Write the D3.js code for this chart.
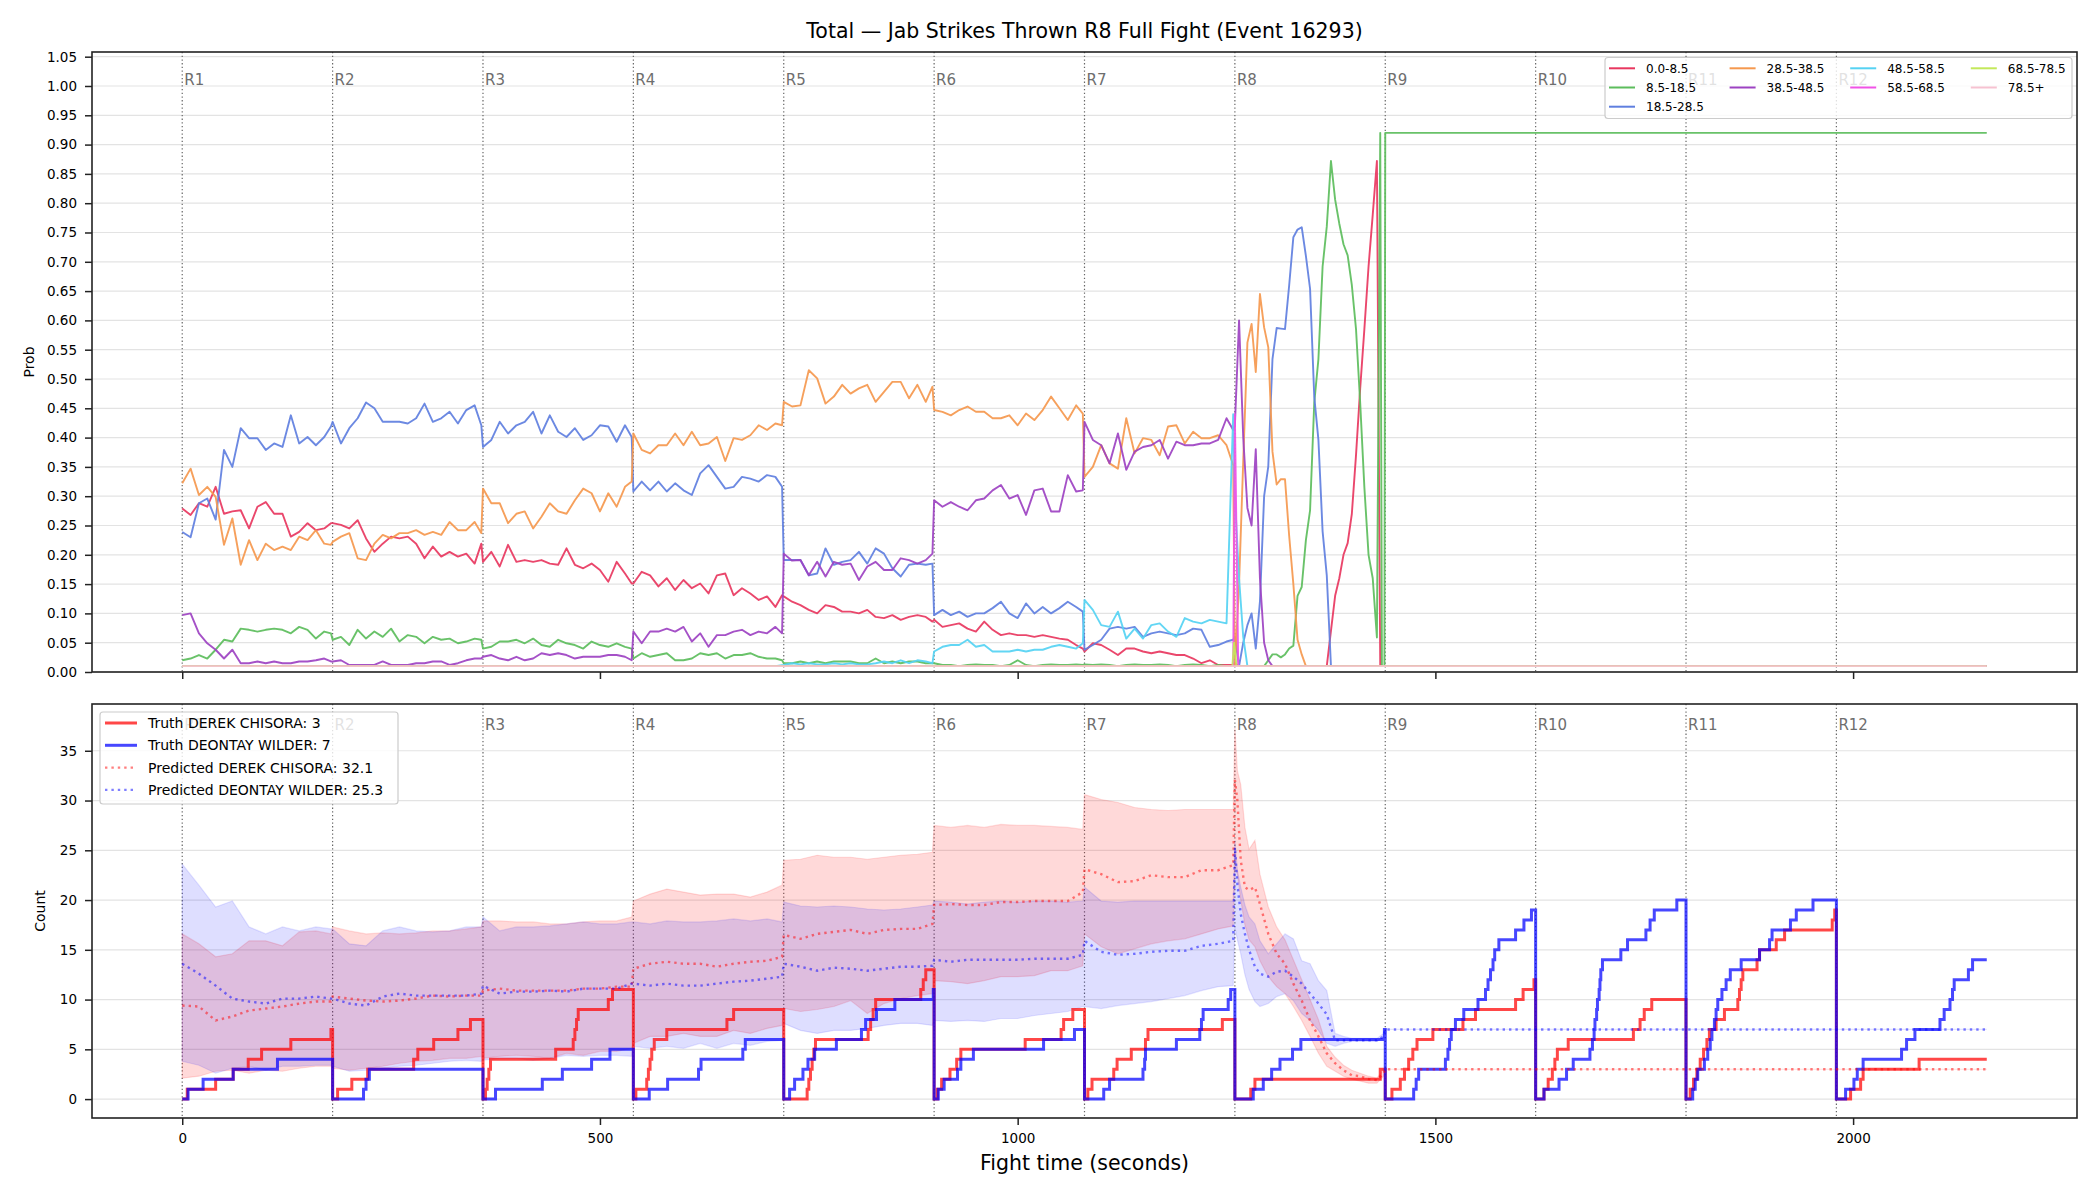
<!DOCTYPE html>
<html><head><meta charset="utf-8">
<script src="https://cdn.jsdelivr.net/npm/d3@7"></script>
<style>body{margin:0;background:#fff}svg{display:block}text{font-family:"DejaVu Sans",sans-serif}</style>
</head><body>
<svg id="chart" width="2100" height="1200"></svg>
<script>
// ---------------- DATA ----------------
const TITLE = "Total — Jab Strikes Thrown R8 Full Fight (Event 16293)";
const ROUND_LABELS = ["R1","R2","R3","R4","R5","R6","R7","R8","R9","R10","R11","R12"];
const ROUND_STARTS = [0,180,360,540,720,900,1080,1260,1440,1620,1800,1980];
const X_TICKS = [0,500,1000,1500,2000];
const PROB_TICKS = [0,0.05,0.10,0.15,0.20,0.25,0.30,0.35,0.40,0.45,0.50,0.55,0.60,0.65,0.70,0.75,0.80,0.85,0.90,0.95,1.00,1.05];
const COUNT_TICKS = [0,5,10,15,20,25,30,35];

// sampling grid of the probability panel (seconds within round for R1-R7, then R8, then tail)
const PROB_OFFSETS = [0,10,20,30,40,50,60,70,80,90,100,110,120,130,140,150,160,170,178];
const PROB_R8_TIMES = [1260,1265,1270,1275,1280,1285,1290,1295,1300,1305,1310,1315,1320,1325,1330,1335,1340,1345,1350,1355,1360,1365,1370,1375,1380,1385,1390,1395,1400,1405,1410,1415,1420,1425,1430];
const PROB_TAIL_TIMES = [1434,1436,1439,1440,2160];

const P_0_8 = [
 0.279,0.268,0.288,0.282,0.316,0.27,0.274,0.276,0.245,0.282,0.29,0.27,0.27,0.231,0.239,0.254,0.242,0.245,0.254,
 0.254,0.251,0.245,0.259,0.228,0.205,0.219,0.231,0.228,0.231,0.219,0.194,0.214,0.197,0.205,0.197,0.202,0.185,0.219,
 0.188,0.205,0.18,0.217,0.188,0.191,0.188,0.191,0.185,0.183,0.211,0.183,0.177,0.185,0.174,0.154,0.188,0.168,0.151,
 0.151,0.171,0.165,0.146,0.16,0.14,0.157,0.143,0.151,0.134,0.165,0.168,0.131,0.143,0.134,0.123,0.129,0.111,0.131,
 0.129,0.12,0.114,0.106,0.1,0.114,0.111,0.103,0.103,0.1,0.106,0.094,0.092,0.097,0.089,0.094,0.097,0.094,0.086,
 0.089,0.077,0.08,0.083,0.074,0.069,0.086,0.072,0.063,0.066,0.063,0.063,0.06,0.063,0.06,0.057,0.055,0.046,0.04,
 0.035,0.049,0.046,0.038,0.029,0.04,0.04,0.035,0.032,0.035,0.032,0.029,0.029,0.023,0.015,0.02,0.012,0.012,0.012,
 0.015,0.01,0.01,0.01,0.01,0.01,0.01,0.01,0.01,0.01,0.01,0.01,0.01,0.01,0.01,0.01,0.01,0.01,0.01,0.01,0.01,0.01,0.01,
 0.07,0.13,0.16,0.2,0.22,0.27,0.37,0.484,0.585,0.692,0.78,0.872,
 0.01,0.01,0.01,0.01,0.01];
const P_8_18 = [
 0.02,0.023,0.029,0.023,0.038,0.055,0.052,0.074,0.072,0.069,0.072,0.074,0.072,0.066,0.077,0.072,0.057,0.069,0.066,
 0.055,0.06,0.046,0.072,0.057,0.069,0.06,0.074,0.052,0.063,0.06,0.049,0.06,0.055,0.057,0.049,0.052,0.057,0.055,
 0.04,0.043,0.052,0.052,0.055,0.049,0.057,0.046,0.043,0.055,0.049,0.046,0.04,0.052,0.046,0.043,0.049,0.043,0.04,
 0.023,0.032,0.026,0.029,0.032,0.02,0.02,0.023,0.032,0.029,0.032,0.023,0.029,0.029,0.032,0.026,0.023,0.023,0.02,
 0.015,0.015,0.018,0.015,0.018,0.015,0.018,0.018,0.018,0.015,0.015,0.023,0.015,0.018,0.015,0.018,0.018,0.015,0.015,
 0.015,0.012,0.012,0.01,0.012,0.013,0.012,0.012,0.01,0.012,0.02,0.012,0.01,0.012,0.013,0.012,0.012,0.013,0.012,
 0.013,0.012,0.013,0.012,0.01,0.012,0.013,0.012,0.012,0.013,0.012,0.01,0.012,0.013,0.012,0.01,0.012,0.01,0.01,
 0.01,0.01,0.01,0.01,0.01,0.01,0.01,0.01,
 0.02,0.03,0.03,0.025,0.03,0.04,0.045,0.13,0.145,0.225,0.276,0.459,0.534,0.692,0.76,0.872,0.806,0.765,0.73,0.711,0.66,0.585,0.459,0.315,0.2,0.16,0.059,
 0.92,0.01,0.01,0.92,0.92];
const P_18_28 = [
 0.239,0.23,0.288,0.296,0.26,0.379,0.35,0.416,0.399,0.399,0.379,0.39,0.384,0.438,0.39,0.401,0.387,0.401,0.419,
 0.427,0.39,0.416,0.433,0.46,0.45,0.427,0.427,0.427,0.424,0.433,0.458,0.427,0.433,0.444,0.424,0.447,0.455,0.421,
 0.384,0.396,0.427,0.407,0.421,0.427,0.444,0.407,0.438,0.41,0.401,0.416,0.396,0.404,0.421,0.419,0.393,0.421,0.401,
 0.308,0.325,0.31,0.325,0.308,0.322,0.31,0.302,0.339,0.353,0.333,0.313,0.316,0.333,0.33,0.325,0.336,0.333,0.316,
 0.191,0.191,0.191,0.165,0.168,0.211,0.183,0.188,0.191,0.205,0.185,0.211,0.202,0.177,0.163,0.183,0.185,0.183,0.185,
 0.097,0.106,0.097,0.103,0.094,0.1,0.1,0.109,0.12,0.1,0.092,0.117,0.1,0.111,0.1,0.109,0.12,0.111,0.103,
 0.038,0.046,0.055,0.074,0.077,0.074,0.077,0.06,0.066,0.069,0.066,0.063,0.066,0.074,0.072,0.043,0.046,0.052,0.055,
 0.06,0.01,0.05,0.08,0.1,0.04,0.12,0.3,0.351,0.534,0.587,0.586,0.585,0.66,0.742,0.755,0.759,0.71,0.654,0.47,0.396,0.24,0.165,
 0.01,0.01,0.01,0.01,0.01,0.01,0.01,0.01,0.01,0.01,0.01,0.01,
 0.01,0.01,0.01,0.01,0.01];
const P_28_38 = [
 0.322,0.347,0.302,0.316,0.299,0.217,0.262,0.183,0.225,0.191,0.219,0.208,0.214,0.208,0.231,0.225,0.242,0.219,0.217,
 0.222,0.231,0.237,0.194,0.191,0.219,0.234,0.228,0.237,0.237,0.242,0.234,0.239,0.234,0.256,0.242,0.242,0.256,0.237,
 0.313,0.288,0.288,0.254,0.27,0.274,0.245,0.265,0.288,0.274,0.27,0.293,0.313,0.305,0.274,0.305,0.282,0.316,0.325,
 0.407,0.379,0.373,0.387,0.387,0.407,0.387,0.41,0.387,0.39,0.401,0.36,0.399,0.396,0.404,0.421,0.413,0.424,0.421,
 0.461,0.453,0.455,0.515,0.501,0.458,0.47,0.49,0.475,0.484,0.49,0.461,0.478,0.495,0.495,0.467,0.49,0.461,0.487,
 0.447,0.444,0.438,0.447,0.453,0.444,0.444,0.433,0.433,0.438,0.421,0.441,0.43,0.447,0.47,0.45,0.43,0.455,0.441,
 0.333,0.35,0.387,0.356,0.347,0.433,0.373,0.399,0.396,0.37,0.419,0.421,0.39,0.41,0.399,0.399,0.404,0.387,0.353,
 0.01,0.15,0.36,0.562,0.594,0.512,0.645,0.588,0.554,0.376,0.32,0.329,0.329,0.232,0.15,0.055,0.03,
 0.01,0.01,0.01,0.01,0.01,0.01,0.01,0.01,0.01,0.01,0.01,0.01,0.01,0.01,0.01,0.01,0.01,0.01,
 0.01,0.01,0.01,0.01,0.01];
const P_38_48 = [
 0.097,0.1,0.066,0.049,0.038,0.023,0.038,0.015,0.015,0.018,0.015,0.018,0.015,0.015,0.018,0.018,0.02,0.023,0.018,
 0.018,0.02,0.012,0.012,0.012,0.012,0.018,0.012,0.012,0.012,0.015,0.015,0.018,0.018,0.012,0.015,0.02,0.023,0.023,
 0.026,0.029,0.023,0.02,0.026,0.02,0.023,0.032,0.029,0.032,0.029,0.023,0.026,0.026,0.026,0.029,0.029,0.026,0.02,
 0.069,0.049,0.069,0.069,0.074,0.069,0.077,0.052,0.066,0.043,0.063,0.063,0.069,0.072,0.063,0.069,0.066,0.077,0.066,
 0.202,0.19,0.191,0.165,0.188,0.163,0.188,0.183,0.185,0.157,0.18,0.188,0.174,0.174,0.194,0.191,0.185,0.191,0.202,
 0.293,0.282,0.29,0.282,0.276,0.293,0.296,0.31,0.319,0.296,0.302,0.268,0.31,0.313,0.274,0.274,0.336,0.308,0.31,
 0.427,0.396,0.387,0.356,0.407,0.345,0.376,0.384,0.387,0.396,0.364,0.393,0.387,0.387,0.39,0.39,0.396,0.433,0.413,
 0.42,0.6,0.4,0.28,0.25,0.38,0.16,0.05,0.02,
 0.01,0.01,0.01,0.01,0.01,0.01,0.01,0.01,0.01,0.01,0.01,0.01,0.01,0.01,0.01,0.01,0.01,0.01,0.01,0.01,0.01,0.01,0.01,0.01,0.01,0.01,
 0.01,0.01,0.01,0.01,0.01];
// 48.5-58.5 starts at 0.01 then follows the grid from round 5
const P_48_58_LEAD_T = [0,710];
const P_48_58 = [
 0.01,0.01,
 0.012,0.015,0.013,0.015,0.013,0.013,0.015,0.013,0.015,0.013,0.013,0.015,0.018,0.015,0.02,0.015,0.02,0.018,0.015,
 0.035,0.043,0.046,0.046,0.055,0.043,0.046,0.035,0.035,0.035,0.038,0.035,0.038,0.038,0.043,0.046,0.043,0.04,0.049,
 0.123,0.106,0.08,0.077,0.103,0.057,0.074,0.057,0.08,0.083,0.069,0.06,0.092,0.086,0.083,0.089,0.086,0.083,0.44,
 0.3,0.16,0.06,
 0.01,0.01,0.01,0.01,0.01,0.01,0.01,0.01,0.01,0.01,0.01,0.01,0.01,0.01,0.01,0.01,0.01,0.01,0.01,0.01,0.01,0.01,0.01,0.01,0.01,0.01,0.01,0.01,0.01,0.01,0.01,0.01,
 0.01,0.01,0.01,0.01,0.01];
const P_58_68_T = [0,1258,1260,1264,2160];
const P_58_68 = [0.01,0.01,0.44,0.01,0.01];
const P_68_78_T = [0,1257,1259,1262,2160];
const P_68_78 = [0.01,0.01,0.05,0.01,0.01];
const P_78_T = [0,2160];
const P_78 = [0.01,0.01];

const BIN_LABELS = ["0.0-8.5","8.5-18.5","18.5-28.5","28.5-38.5","38.5-48.5","48.5-58.5","58.5-68.5","68.5-78.5","78.5+"];
const BIN_COLORS = ["#e8375f","#5cbd5c","#5f7fdf","#f5984e","#9d42c2","#55d2f3","#f052e6","#c3e85a","#f6c2d1"];

// count panel: predicted mean / band grid
const BAND_OFFSETS = [0,20,40,60,80,100,120,140,160,178];
const BAND_R8_TIMES = [1260,1263,1267,1272,1277,1284,1290,1300,1310,1320,1330,1340,1350,1360,1370,1380,1390,1400,1410,1420,1430,1438];
const BAND_TAIL_TIMES = [1440,2160];

const PRED_RED = [
 9.4,9.3,7.9,8.3,8.9,9.1,9.3,9.6,9.8,9.8,
 10.3,10.1,9.9,9.8,9.9,10.1,10.4,10.3,10.4,10.4,
 10.9,11.1,10.9,10.9,10.9,10.9,11.1,11.1,11.3,11.3,
 13.1,13.6,13.8,13.6,13.6,13.3,13.6,13.8,13.9,14.3,
 16.5,16.1,16.6,16.8,17.0,16.6,17.0,17.1,17.1,17.6,
 19.5,19.6,19.5,19.5,19.8,19.8,19.9,19.9,19.9,20.8,
 23.1,22.6,21.8,21.9,22.5,22.3,22.3,23.0,23.0,23.5,
 32.1,30.0,24.0,21.3,21.0,21.3,19.6,16.6,14.6,13.6,11.6,9.9,7.9,6.3,4.6,3.6,2.9,2.4,2.3,2.0,1.9,2.6,
 3,3];
const PRED_RED_LO = [
 2.1,2.3,2.8,2.9,2.6,2.9,2.8,3.1,3.3,3.3,
 3.1,2.9,3.1,3.3,3.6,3.8,3.9,4.1,4.1,4.3,
 4.1,4.3,4.4,4.3,4.1,4.6,4.4,4.8,4.8,5.1,
 5.6,6.3,6.3,6.6,6.3,6.3,6.9,6.6,7.1,7.4,
 9.1,8.8,9.0,9.3,9.9,8.6,9.6,10.1,10.4,10.6,
 11.9,11.8,11.6,11.9,12.3,12.3,12.4,12.9,12.9,13.4,
 16.6,15.3,14.6,15.1,15.6,15.9,16.1,16.6,17.1,17.4,
 23.3,22.6,20.0,17.5,16.0,15.3,13.9,12.3,11.3,10.6,9.3,7.9,6.3,4.6,3.3,2.8,2.3,2.0,1.8,1.6,1.6,2.3,
 3,3];
const PRED_RED_HI = [
 16.6,15.6,14.3,14.6,15.9,15.9,15.4,16.8,16.9,16.6,
 17.3,16.9,16.6,16.7,16.6,16.7,16.9,16.9,17.1,17.3,
 17.9,17.9,17.8,17.8,17.6,17.6,17.8,17.9,17.9,18.3,
 19.9,20.6,21.1,20.8,20.5,20.6,20.6,20.3,20.8,21.5,
 24.0,24.1,24.5,24.3,24.3,24.1,24.3,24.5,24.6,24.8,
 27.5,27.3,27.5,27.3,27.6,27.5,27.5,27.4,27.3,27.1,
 30.6,30.1,29.8,29.3,29.1,29.0,29.1,29.1,29.1,29.1,
 37.3,33.0,31.6,27.3,25.1,26.0,22.6,19.3,17.3,16.0,14.0,12.0,10.0,8.0,5.3,4.2,3.4,2.9,2.6,2.3,2.1,3.0,
 3,3];
const PRED_BLUE = [
 13.6,12.6,11.4,10.1,9.8,9.6,10.1,10.1,10.3,10.1,
 10.1,9.6,9.4,10.3,10.6,10.4,10.4,10.4,10.4,10.6,
 11.4,10.6,10.8,10.8,10.9,10.8,11.1,11.1,11.1,11.6,
 11.6,11.4,11.6,11.4,11.4,11.6,11.8,11.9,12.1,12.3,
 13.6,13.3,12.9,13.2,13.1,12.9,13.1,13.3,13.3,13.4,
 14.0,13.8,14.0,14.0,14.0,14.0,14.1,14.1,14.1,14.5,
 15.9,14.8,14.5,14.6,14.8,14.9,14.9,15.4,15.6,15.9,
 25.3,21.6,18.6,16.6,15.0,13.3,12.6,12.3,12.8,12.9,12.3,11.6,10.6,9.6,8.5,5.9,5.9,5.9,5.9,5.9,5.9,6.3,
 7,7];
const PRED_BLUE_LO = [
 3.8,3.4,2.6,3.1,3.3,2.9,3.3,3.3,3.4,3.4,
 3.3,2.8,2.9,3.1,3.3,3.4,3.6,3.8,3.9,3.8,
 3.9,4.1,4.1,3.9,4.1,4.4,4.3,4.4,4.4,4.3,
 5.3,5.1,5.3,5.1,5.6,5.1,5.6,5.4,5.8,5.9,
 7.6,6.9,6.6,6.9,6.9,7.1,7.4,7.6,7.6,7.4,
 7.9,7.8,7.9,7.8,8.1,8.1,8.4,8.6,8.8,9.3,
 9.3,9.1,9.4,9.6,9.8,10.1,10.4,10.9,11.3,11.4,
 17.3,16.0,14.6,12.5,11.0,9.8,9.3,9.6,10.3,10.6,9.9,8.6,7.9,6.9,5.6,5.3,5.6,5.8,5.8,5.8,5.8,6.2,
 7,7];
const PRED_BLUE_HI = [
 23.6,21.5,19.3,19.9,17.3,16.6,17.3,16.9,17.3,17.1,
 17.1,15.6,15.4,16.9,17.3,16.9,16.8,16.9,17.3,17.3,
 18.3,16.9,17.3,17.3,17.4,17.6,17.8,17.6,17.6,17.8,
 17.8,17.6,17.9,17.8,17.8,17.9,18.1,17.9,18.1,17.8,
 19.8,19.4,19.3,19.4,19.3,19.1,19.0,19.1,19.3,19.5,
 19.9,19.8,19.6,19.8,19.9,19.8,19.9,19.9,19.8,19.9,
 21.3,19.9,19.8,19.9,19.9,19.9,19.9,19.9,19.9,19.9,
 26.0,23.0,21.3,19.5,18.3,17.6,15.9,14.6,15.6,16.6,16.1,13.9,13.6,11.9,10.9,6.6,6.3,6.1,6.1,6.1,6.1,6.6,
 7,7];

// truth: cumulative count (resets each round) at change times
const TRUTH_RED_T = [0,6,40,61,79,95,130,178,
 180,186,203,222,277,282,301,330,345,
 360,363,365,367,369,447,468,470,472,474,510,515,
 540,543,556,558,560,562,565,580,652,660,
 720,748,750,752,754,756,758,821,824,827,830,884,887,890,
 900,904,909,919,927,932,1009,1052,1055,1066,
 1080,1084,1089,1115,1119,1136,1153,1156,1245,
 1260,1279,1284,1434,
 1440,1448,1458,1463,1468,1473,1478,1497,1533,1548,1596,1605,1618,
 1620,1630,1635,1640,1643,1646,1659,1737,1745,1750,1759,
 1800,1805,1809,1813,1817,1821,1825,1828,1836,1846,1862,1864,1866,1868,1885,1888,1908,1918,1975,1978,
 1980,1997,2009,2012,2079,2160];
const TRUTH_RED_C = [0,1,2,3,4,5,6,7,
 0,1,2,3,4,5,6,7,8,
 0,1,2,3,4,5,6,7,8,9,10,11,
 0,1,2,3,4,5,6,7,8,9,
 0,1,2,3,4,5,6,7,8,9,10,11,12,13,
 0,1,2,3,4,5,6,7,8,9,
 0,1,2,3,4,5,6,7,8,
 0,1,2,3,
 0,1,2,3,4,5,6,7,8,9,10,11,12,
 0,1,2,3,4,5,6,7,8,9,10,
 0,1,2,3,4,5,6,7,8,9,10,11,12,13,14,15,16,17,18,19,
 0,1,2,3,4,4];
const TRUTH_BLUE_T = [0,7,25,61,114,
 180,217,220,224,
 360,375,431,455,490,512,
 540,559,581,618,621,671,674,
 720,727,733,743,749,757,783,813,818,831,853,899,
 900,905,912,928,932,947,1031,1068,
 1080,1103,1110,1150,1152,1153,1190,1218,1220,1222,1252,1255,
 1260,1282,1294,1304,1314,1329,1339,1439,
 1440,1474,1477,1480,1512,1515,1517,1519,1524,1534,1551,1560,1563,1566,1569,1571,1576,1596,1606,1615,
 1620,1630,1648,1657,1665,1685,1688,1690,1691,1693,1694,1696,1697,1698,1700,1722,1730,1752,1757,1762,1789,
 1800,1808,1811,1814,1822,1826,1829,1831,1834,1836,1838,1843,1848,1853,1866,1888,1900,1903,1925,1932,1952,
 1980,1991,2001,2005,2012,2058,2064,2074,2104,2109,2116,2119,2121,2138,2143,2160];
const TRUTH_BLUE_C = [0,1,2,3,4,
 0,1,2,3,
 0,1,2,3,4,5,
 0,1,2,3,4,5,6,
 0,1,2,3,4,5,6,7,8,9,10,11,
 0,1,2,3,4,5,6,7,
 0,1,2,3,4,5,6,7,8,9,10,11,
 0,1,2,3,4,5,6,7,
 0,1,2,3,4,5,6,7,8,9,10,11,12,13,14,15,16,17,18,19,
 0,1,2,3,4,5,6,7,8,9,10,11,12,13,14,15,16,17,18,19,20,
 0,1,2,3,4,5,6,7,8,9,10,11,12,13,14,15,16,17,18,19,20,
 0,1,2,3,4,5,6,7,8,9,10,11,12,13,14,14];

const LEGEND2 = ["Truth DEREK CHISORA: 3","Truth DEONTAY WILDER: 7","Predicted DEREK CHISORA: 32.1","Predicted DEONTAY WILDER: 25.3"];

// ---------------- BUILD ----------------
const PROB_T = ROUND_STARTS.slice(0,7).flatMap(s => PROB_OFFSETS.map(o => s + o)).concat(PROB_R8_TIMES, PROB_TAIL_TIMES);
const CYAN_T = P_48_58_LEAD_T.concat(PROB_T.slice(4 * PROB_OFFSETS.length));
const BAND_T = ROUND_STARTS.slice(0,7).flatMap(s => BAND_OFFSETS.map(o => s + o)).concat(BAND_R8_TIMES, BAND_TAIL_TIMES);

const BINS = [
  {t: PROB_T, v: P_0_8}, {t: PROB_T, v: P_8_18}, {t: PROB_T, v: P_18_28}, {t: PROB_T, v: P_28_38},
  {t: PROB_T, v: P_38_48}, {t: CYAN_T, v: P_48_58}, {t: P_58_68_T, v: P_58_68}, {t: P_68_78_T, v: P_68_78},
  {t: P_78_T, v: P_78}
];
BINS.forEach((b,i) => { if (b.t.length !== b.v.length) throw new Error("len mismatch bin " + i + " " + b.t.length + " vs " + b.v.length); });
[PRED_RED,PRED_RED_LO,PRED_RED_HI,PRED_BLUE,PRED_BLUE_LO,PRED_BLUE_HI].forEach((a,i)=>{ if (a.length !== BAND_T.length) throw new Error("band len " + i + " " + a.length + " vs " + BAND_T.length); });
if (TRUTH_RED_T.length !== TRUTH_RED_C.length) throw new Error("truth red " + TRUTH_RED_T.length + " " + TRUTH_RED_C.length);
if (TRUTH_BLUE_T.length !== TRUTH_BLUE_C.length) throw new Error("truth blue " + TRUTH_BLUE_T.length + " " + TRUTH_BLUE_C.length);

const svg = d3.select("#chart");
const L = 92, R = 2077, T1 = 52, B1 = 672, T2 = 704, B2 = 1118;
const FONT = "DejaVu Sans";
const x = d3.scaleLinear().domain([-108, 2268]).range([L, R]);
const yP = d3.scaleLinear().domain([0, 1.058]).range([B1, T1]);
const yC = d3.scaleLinear().domain([-1.9, 39.7]).range([B2, T2]);

svg.append("rect").attr("width", 2100).attr("height", 1200).attr("fill", "#fff");
const defs = svg.append("defs");
defs.append("clipPath").attr("id", "clip1").append("rect").attr("x", L).attr("y", T1).attr("width", R - L).attr("height", B1 - T1);
defs.append("clipPath").attr("id", "clip2").append("rect").attr("x", L).attr("y", T2).attr("width", R - L).attr("height", B2 - T2);

// title
svg.append("text").attr("x", (L + R) / 2).attr("y", 37.5).attr("text-anchor", "middle")
  .attr("font-size", 20.5).attr("fill", "#000").text(TITLE);

function panel(yScale, ticks, top, bottom, clipId, fmt, showX) {
  const g = svg.append("g");
  // horizontal grid
  g.append("g").selectAll("line").data(ticks).join("line")
    .attr("x1", L).attr("x2", R).attr("y1", d => yScale(d)).attr("y2", d => yScale(d))
    .attr("stroke", "#e3e3e3").attr("stroke-width", 1.2);
  // round dividers
  const content = g.append("g").attr("clip-path", `url(#${clipId})`);
  content.append("g").selectAll("line").data(ROUND_STARTS).join("line")
    .attr("x1", d => x(d)).attr("x2", d => x(d)).attr("y1", top).attr("y2", bottom)
    .attr("stroke", "#666").attr("stroke-width", 1.2).attr("stroke-dasharray", "1.3,2.4");
  // y axis
  const ay = g.append("g").attr("transform", `translate(${L},0)`)
    .call(d3.axisLeft(yScale).tickValues(ticks).tickFormat(fmt).tickSize(7).tickPadding(8));
  ay.select(".domain").remove();
  ay.selectAll("line").attr("stroke", "#222").attr("stroke-width", 1.5);
  ay.selectAll("text").attr("font-family", FONT).attr("font-size", 13.5).attr("fill", "#000");
  // x axis
  const ax = g.append("g").attr("transform", `translate(0,${bottom})`)
    .call(d3.axisBottom(x).tickValues(X_TICKS).tickFormat(showX ? d3.format("d") : () => "").tickSize(7).tickPadding(8));
  ax.select(".domain").remove();
  ax.selectAll("line").attr("stroke", "#222").attr("stroke-width", 1.5);
  ax.selectAll("text").attr("font-family", FONT).attr("font-size", 13.5).attr("fill", "#000");
  return {g, content};
}

// ---------- top panel ----------
const p1 = panel(yP, PROB_TICKS, T1, B1, "clip1", d3.format(".2f"), false);
const lineP = d3.line().x(d => x(d[0])).y(d => yP(d[1]));
BINS.forEach((b, i) => {
  p1.content.append("path").datum(b.t.map((t, k) => [t, b.v[k]]))
    .attr("d", lineP).attr("fill", "none").attr("stroke", BIN_COLORS[i])
    .attr("stroke-width", 1.9).attr("stroke-linejoin", "round").attr("opacity", 0.92);
});
p1.g.append("g").selectAll("text").data(ROUND_STARTS).join("text")
  .attr("x", d => x(d) + 2).attr("y", 85).attr("font-size", 15).attr("fill", "#6e6e6e")
  .text((d, i) => ROUND_LABELS[i]);
svg.append("rect").attr("x", L).attr("y", T1).attr("width", R - L).attr("height", B1 - T1)
  .attr("fill", "none").attr("stroke", "#222").attr("stroke-width", 1.6);

// legend top
const LG1_COL = [0,0,0,1,1,2,2,3,3], LG1_ROW = [0,1,2,0,1,0,1,0,1];
const lg1 = svg.append("g");
lg1.append("rect").attr("x", 1605).attr("y", 57.5).attr("width", 467).attr("height", 61).attr("rx", 3)
  .attr("fill", "#fff").attr("fill-opacity", 0.8).attr("stroke", "#cccccc").attr("stroke-width", 1.2);
BIN_LABELS.forEach((lab, i) => {
  const cx = 1609 + LG1_COL[i] * 120.6, cy = 68.3 + LG1_ROW[i] * 19.2;
  lg1.append("line").attr("x1", cx).attr("x2", cx + 26).attr("y1", cy).attr("y2", cy)
    .attr("stroke", BIN_COLORS[i]).attr("stroke-width", 2);
  lg1.append("text").attr("x", cx + 37).attr("y", cy + 4.3).attr("font-size", 12).attr("fill", "#000").text(lab);
});

// ---------- bottom panel ----------
const p2 = panel(yC, COUNT_TICKS, T2, B2, "clip2", d3.format("d"), true);
const bandPts = (lo, hi) => BAND_T.map((t, k) => [t, lo[k], hi[k]]);
const area = d3.area().x(d => x(d[0])).y0(d => yC(d[1])).y1(d => yC(d[2]));
p2.content.append("path").datum(bandPts(PRED_RED_LO, PRED_RED_HI)).attr("d", area)
  .attr("fill", "red").attr("fill-opacity", 0.15).attr("stroke", "red").attr("stroke-opacity", 0.13).attr("stroke-width", 1.2);
p2.content.append("path").datum(bandPts(PRED_BLUE_LO, PRED_BLUE_HI)).attr("d", area)
  .attr("fill", "blue").attr("fill-opacity", 0.13).attr("stroke", "blue").attr("stroke-opacity", 0.11).attr("stroke-width", 1.2);

const stepLine = d3.line().x(d => x(d[0])).y(d => yC(d[1])).curve(d3.curveStepAfter);
p2.content.append("path").datum(TRUTH_RED_T.map((t, k) => [t, TRUTH_RED_C[k]])).attr("d", stepLine)
  .attr("fill", "none").attr("stroke", "red").attr("stroke-opacity", 0.72).attr("stroke-width", 3);
p2.content.append("path").datum(TRUTH_BLUE_T.map((t, k) => [t, TRUTH_BLUE_C[k]])).attr("d", stepLine)
  .attr("fill", "none").attr("stroke", "blue").attr("stroke-opacity", 0.72).attr("stroke-width", 3);

const lineC = d3.line().x(d => x(d[0])).y(d => yC(d[1]));
p2.content.append("path").datum(BAND_T.map((t, k) => [t, PRED_RED[k]])).attr("d", lineC)
  .attr("fill", "none").attr("stroke", "red").attr("stroke-opacity", 0.5).attr("stroke-width", 2.4).attr("stroke-dasharray", "2.4,4");
p2.content.append("path").datum(BAND_T.map((t, k) => [t, PRED_BLUE[k]])).attr("d", lineC)
  .attr("fill", "none").attr("stroke", "blue").attr("stroke-opacity", 0.5).attr("stroke-width", 2.4).attr("stroke-dasharray", "2.4,4");

p2.g.append("g").selectAll("text").data(ROUND_STARTS).join("text")
  .attr("x", d => x(d) + 2).attr("y", 730).attr("font-size", 15).attr("fill", "#6e6e6e")
  .text((d, i) => ROUND_LABELS[i]);
svg.append("rect").attr("x", L).attr("y", T2).attr("width", R - L).attr("height", B2 - T2)
  .attr("fill", "none").attr("stroke", "#222").attr("stroke-width", 1.6);

// legend bottom
const lg2 = svg.append("g");
lg2.append("rect").attr("x", 100).attr("y", 712).attr("width", 298).attr("height", 92).attr("rx", 3)
  .attr("fill", "#fff").attr("fill-opacity", 0.8).attr("stroke", "#cccccc").attr("stroke-width", 1.2);
const LG2_STYLE = [
  {c: "red", dash: null, op: 0.72, w: 3}, {c: "blue", dash: null, op: 0.72, w: 3},
  {c: "red", dash: "2.4,4", op: 0.5, w: 2.4}, {c: "blue", dash: "2.4,4", op: 0.5, w: 2.4}];
LEGEND2.forEach((lab, i) => {
  const cy = 723 + i * 22.3;
  const s = LG2_STYLE[i];
  const ln = lg2.append("line").attr("x1", 105).attr("x2", 137).attr("y1", cy).attr("y2", cy)
    .attr("stroke", s.c).attr("stroke-opacity", s.op).attr("stroke-width", s.w);
  if (s.dash) ln.attr("stroke-dasharray", s.dash);
  lg2.append("text").attr("x", 148).attr("y", cy + 5).attr("font-size", 14).attr("fill", "#000").text(lab);
});

// axis labels
svg.append("text").attr("transform", `translate(34,${(T1 + B1) / 2}) rotate(-90)`).attr("text-anchor", "middle")
  .attr("font-size", 14).attr("fill", "#000").text("Prob");
svg.append("text").attr("transform", `translate(45,${(T2 + B2) / 2}) rotate(-90)`).attr("text-anchor", "middle")
  .attr("font-size", 14).attr("fill", "#000").text("Count");
svg.append("text").attr("x", (L + R) / 2).attr("y", 1170).attr("text-anchor", "middle")
  .attr("font-size", 20.5).attr("fill", "#000").text("Fight time (seconds)");
</script>
</body></html>
